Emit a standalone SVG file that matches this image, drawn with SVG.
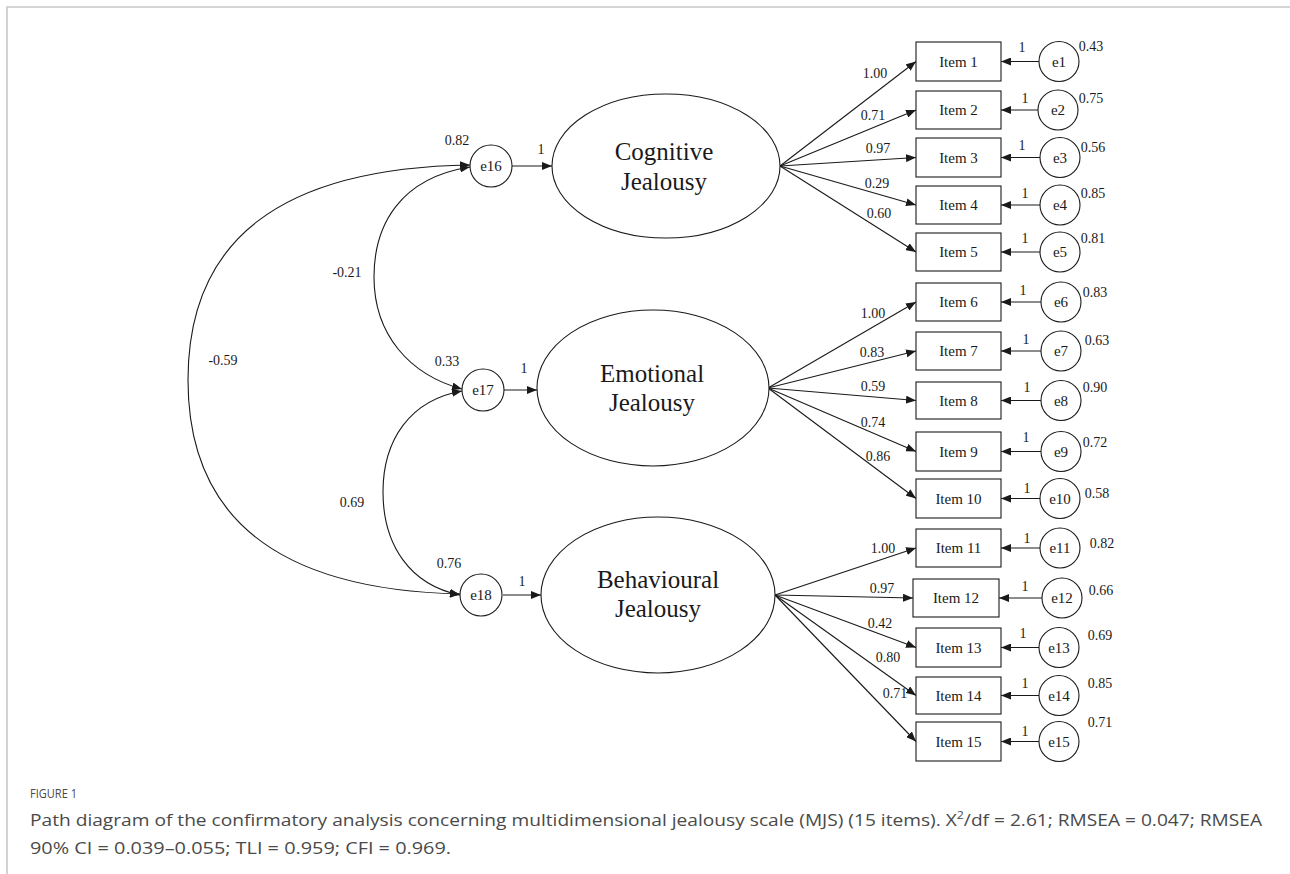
<svg xmlns="http://www.w3.org/2000/svg" width="1290" height="874" viewBox="0 0 1290 874">
<style>
.sh{fill:#fff;stroke:#1a1a1a;stroke-width:1.1}
.ln{fill:none;stroke:#1a1a1a;stroke-width:1.1}
.t{font-family:"Liberation Serif","Times New Roman",serif;fill:#1a1a1a}
.lat{font-size:25px;text-anchor:middle}
.it{font-size:15px;text-anchor:middle}
.er{font-size:15px;text-anchor:middle}
.n{font-size:14px;text-anchor:middle}
.cap{font-family:"Open Sans","Liberation Sans",sans-serif;fill:#4a4a4a}
</style>
<defs>
<marker id="ah" viewBox="0 0 10 8" refX="10" refY="4" markerWidth="10" markerHeight="8" orient="auto-start-reverse" markerUnits="userSpaceOnUse">
<path d="M0,0 L10,4 L0,8 z" fill="#1a1a1a"/>
</marker>
</defs>
<rect width="1290" height="874" fill="#fff"/>
<path d="M7,874 V7 H1290" fill="none" stroke="#c8c8c8" stroke-width="1.6"/>

<g id="connectors">
<path class="ln" d="M470,165 C280,168 188,240 188,380 C188,520 280,590 460,594" marker-start="url(#ah)" marker-end="url(#ah)"/>
<path class="ln" d="M470,167 C400,178 374,225 374,277 C374,335 410,375 462,389" marker-start="url(#ah)" marker-end="url(#ah)"/>
<path class="ln" d="M462,391 C410,400 383,440 383,492 C383,545 410,585 460,595" marker-start="url(#ah)" marker-end="url(#ah)"/>
<line class="ln" x1="512" y1="166" x2="552" y2="166" marker-end="url(#ah)"/>
<line class="ln" x1="504" y1="390" x2="537" y2="390" marker-end="url(#ah)"/>
<line class="ln" x1="503" y1="595" x2="541" y2="595" marker-end="url(#ah)"/>
<line class="ln" x1="780" y1="166" x2="916" y2="61.5" marker-end="url(#ah)"/>
<line class="ln" x1="780" y1="166" x2="916" y2="110" marker-end="url(#ah)"/>
<line class="ln" x1="780" y1="166" x2="916" y2="157.5" marker-end="url(#ah)"/>
<line class="ln" x1="780" y1="166" x2="916" y2="205" marker-end="url(#ah)"/>
<line class="ln" x1="780" y1="166" x2="916" y2="252" marker-end="url(#ah)"/>
<line class="ln" x1="768" y1="388" x2="916" y2="302" marker-end="url(#ah)"/>
<line class="ln" x1="768" y1="388" x2="916" y2="351" marker-end="url(#ah)"/>
<line class="ln" x1="768" y1="388" x2="916" y2="400.5" marker-end="url(#ah)"/>
<line class="ln" x1="768" y1="388" x2="916" y2="451.5" marker-end="url(#ah)"/>
<line class="ln" x1="768" y1="388" x2="916" y2="498.5" marker-end="url(#ah)"/>
<line class="ln" x1="775" y1="595" x2="916" y2="548" marker-end="url(#ah)"/>
<line class="ln" x1="775" y1="595" x2="913" y2="598" marker-end="url(#ah)"/>
<line class="ln" x1="775" y1="595" x2="916" y2="647.5" marker-end="url(#ah)"/>
<line class="ln" x1="775" y1="595" x2="916" y2="695.5" marker-end="url(#ah)"/>
<line class="ln" x1="775" y1="595" x2="916" y2="741.5" marker-end="url(#ah)"/>
<line class="ln" x1="1039" y1="61.5" x2="1001" y2="61.5" marker-end="url(#ah)"/>
<line class="ln" x1="1038" y1="110" x2="1001" y2="110" marker-end="url(#ah)"/>
<line class="ln" x1="1040" y1="157.5" x2="1001" y2="157.5" marker-end="url(#ah)"/>
<line class="ln" x1="1040" y1="205" x2="1001" y2="205" marker-end="url(#ah)"/>
<line class="ln" x1="1040" y1="252" x2="1001" y2="252" marker-end="url(#ah)"/>
<line class="ln" x1="1041" y1="302" x2="1001" y2="302" marker-end="url(#ah)"/>
<line class="ln" x1="1041" y1="351" x2="1001" y2="351" marker-end="url(#ah)"/>
<line class="ln" x1="1041" y1="400.5" x2="1001" y2="400.5" marker-end="url(#ah)"/>
<line class="ln" x1="1041" y1="451.5" x2="1001" y2="451.5" marker-end="url(#ah)"/>
<line class="ln" x1="1040" y1="498.5" x2="1001" y2="498.5" marker-end="url(#ah)"/>
<line class="ln" x1="1040" y1="548" x2="1001" y2="548" marker-end="url(#ah)"/>
<line class="ln" x1="1042" y1="598" x2="999" y2="598" marker-end="url(#ah)"/>
<line class="ln" x1="1039" y1="647.5" x2="1001" y2="647.5" marker-end="url(#ah)"/>
<line class="ln" x1="1039" y1="695.5" x2="1001" y2="695.5" marker-end="url(#ah)"/>
<line class="ln" x1="1039" y1="741.5" x2="1001" y2="741.5" marker-end="url(#ah)"/>
</g>

<g id="labels" class="t">
<text class="n" x="457" y="145">0.82</text>
<text class="n" x="347" y="277">-0.21</text>
<text class="n" x="223" y="365">-0.59</text>
<text class="n" x="447" y="366">0.33</text>
<text class="n" x="352" y="507">0.69</text>
<text class="n" x="449" y="568">0.76</text>
<text class="n" x="541" y="154">1</text>
<text class="n" x="524" y="373">1</text>
<text class="n" x="522" y="586">1</text>
<text class="n" x="875" y="78">1.00</text>
<text class="n" x="873" y="120">0.71</text>
<text class="n" x="878" y="153">0.97</text>
<text class="n" x="877" y="188">0.29</text>
<text class="n" x="879" y="218">0.60</text>
<text class="n" x="873" y="318">1.00</text>
<text class="n" x="872" y="357">0.83</text>
<text class="n" x="873" y="391">0.59</text>
<text class="n" x="873" y="427">0.74</text>
<text class="n" x="878" y="461">0.86</text>
<text class="n" x="883" y="553">1.00</text>
<text class="n" x="882" y="593">0.97</text>
<text class="n" x="880" y="628">0.42</text>
<text class="n" x="888" y="662">0.80</text>
<text class="n" x="895" y="698">0.71</text>
<text class="n" x="1022" y="52">1</text>
<text class="n" x="1025" y="103">1</text>
<text class="n" x="1022" y="150">1</text>
<text class="n" x="1025" y="198">1</text>
<text class="n" x="1025" y="243">1</text>
<text class="n" x="1023" y="295">1</text>
<text class="n" x="1026" y="344">1</text>
<text class="n" x="1027" y="392">1</text>
<text class="n" x="1026" y="442">1</text>
<text class="n" x="1027" y="493">1</text>
<text class="n" x="1027" y="543">1</text>
<text class="n" x="1025" y="591">1</text>
<text class="n" x="1023" y="638">1</text>
<text class="n" x="1025" y="688">1</text>
<text class="n" x="1025" y="736">1</text>
<text class="n" x="1091" y="51">0.43</text>
<text class="n" x="1091" y="103">0.75</text>
<text class="n" x="1093" y="152">0.56</text>
<text class="n" x="1093" y="198">0.85</text>
<text class="n" x="1093" y="243">0.81</text>
<text class="n" x="1095" y="297">0.83</text>
<text class="n" x="1097" y="345">0.63</text>
<text class="n" x="1095" y="392">0.90</text>
<text class="n" x="1095" y="447">0.72</text>
<text class="n" x="1097" y="498">0.58</text>
<text class="n" x="1102" y="548">0.82</text>
<text class="n" x="1101" y="595">0.66</text>
<text class="n" x="1100" y="640">0.69</text>
<text class="n" x="1100" y="688">0.85</text>
<text class="n" x="1100" y="727">0.71</text>
</g>

<g id="cognitive" class="t"><ellipse class="sh" cx="666" cy="166" rx="114" ry="72"/><text class="lat" x="664" y="160">Cognitive</text><text class="lat" x="664" y="190">Jealousy</text></g>
<g id="emotional" class="t"><ellipse class="sh" cx="653" cy="388" rx="116" ry="78"/><text class="lat" x="652" y="382">Emotional</text><text class="lat" x="652" y="411">Jealousy</text></g>
<g id="behavioural" class="t"><ellipse class="sh" cx="658" cy="595" rx="117" ry="78"/><text class="lat" x="658" y="588">Behavioural</text><text class="lat" x="658" y="617">Jealousy</text></g>

<g id="e16" class="t"><circle class="sh" cx="491" cy="166" r="21"/><text class="er" x="491" y="171">e16</text></g>
<g id="e17" class="t"><circle class="sh" cx="483" cy="390" r="21"/><text class="er" x="483" y="395">e17</text></g>
<g id="e18" class="t"><circle class="sh" cx="481" cy="595" r="21"/><text class="er" x="481" y="600">e18</text></g>

<g id="item1" class="t"><rect class="sh" x="916" y="42" width="85" height="39"/><text class="it" x="958.5" y="66.5">Item 1</text></g>
<g id="item2" class="t"><rect class="sh" x="916" y="91" width="85" height="38"/><text class="it" x="958.5" y="115">Item 2</text></g>
<g id="item3" class="t"><rect class="sh" x="916" y="138" width="85" height="39"/><text class="it" x="958.5" y="162.5">Item 3</text></g>
<g id="item4" class="t"><rect class="sh" x="916" y="186" width="85" height="38"/><text class="it" x="958.5" y="210">Item 4</text></g>
<g id="item5" class="t"><rect class="sh" x="916" y="233" width="85" height="38"/><text class="it" x="958.5" y="257">Item 5</text></g>
<g id="item6" class="t"><rect class="sh" x="916" y="283" width="85" height="38"/><text class="it" x="958.5" y="307">Item 6</text></g>
<g id="item7" class="t"><rect class="sh" x="916" y="332" width="85" height="38"/><text class="it" x="958.5" y="356">Item 7</text></g>
<g id="item8" class="t"><rect class="sh" x="916" y="382" width="85" height="37"/><text class="it" x="958.5" y="405.5">Item 8</text></g>
<g id="item9" class="t"><rect class="sh" x="916" y="432" width="85" height="39"/><text class="it" x="958.5" y="456.5">Item 9</text></g>
<g id="item10" class="t"><rect class="sh" x="916" y="479" width="85" height="39"/><text class="it" x="958.5" y="503.5">Item 10</text></g>
<g id="item11" class="t"><rect class="sh" x="916" y="529" width="85" height="38"/><text class="it" x="958.5" y="553">Item 11</text></g>
<g id="item12" class="t"><rect class="sh" x="913" y="579" width="86" height="38"/><text class="it" x="956" y="603">Item 12</text></g>
<g id="item13" class="t"><rect class="sh" x="916" y="628" width="85" height="39"/><text class="it" x="958.5" y="652.5">Item 13</text></g>
<g id="item14" class="t"><rect class="sh" x="916" y="677" width="85" height="37"/><text class="it" x="958.5" y="700.5">Item 14</text></g>
<g id="item15" class="t"><rect class="sh" x="916" y="722" width="85" height="39"/><text class="it" x="958.5" y="746.5">Item 15</text></g>

<g id="e1" class="t"><circle class="sh" cx="1059" cy="61.5" r="20"/><text class="er" x="1059" y="66.5">e1</text></g>
<g id="e2" class="t"><circle class="sh" cx="1058" cy="110" r="20"/><text class="er" x="1058" y="115">e2</text></g>
<g id="e3" class="t"><circle class="sh" cx="1060" cy="157.5" r="20"/><text class="er" x="1060" y="162.5">e3</text></g>
<g id="e4" class="t"><circle class="sh" cx="1060" cy="205" r="20"/><text class="er" x="1060" y="210">e4</text></g>
<g id="e5" class="t"><circle class="sh" cx="1060" cy="252" r="20"/><text class="er" x="1060" y="257">e5</text></g>
<g id="e6" class="t"><circle class="sh" cx="1061" cy="302" r="20"/><text class="er" x="1061" y="307">e6</text></g>
<g id="e7" class="t"><circle class="sh" cx="1061" cy="351" r="20"/><text class="er" x="1061" y="356">e7</text></g>
<g id="e8" class="t"><circle class="sh" cx="1061" cy="400.5" r="20"/><text class="er" x="1061" y="405.5">e8</text></g>
<g id="e9" class="t"><circle class="sh" cx="1061" cy="451.5" r="20"/><text class="er" x="1061" y="456.5">e9</text></g>
<g id="e10" class="t"><circle class="sh" cx="1060" cy="498.5" r="20"/><text class="er" x="1060" y="503.5">e10</text></g>
<g id="e11" class="t"><circle class="sh" cx="1060" cy="548" r="20"/><text class="er" x="1060" y="553">e11</text></g>
<g id="e12" class="t"><circle class="sh" cx="1062" cy="598" r="20"/><text class="er" x="1062" y="603">e12</text></g>
<g id="e13" class="t"><circle class="sh" cx="1059" cy="647.5" r="20"/><text class="er" x="1059" y="652.5">e13</text></g>
<g id="e14" class="t"><circle class="sh" cx="1059" cy="695.5" r="20"/><text class="er" x="1059" y="700.5">e14</text></g>
<g id="e15" class="t"><circle class="sh" cx="1059" cy="741.5" r="20"/><text class="er" x="1059" y="746.5">e15</text></g>

<g id="caption">
<text class="cap" x="30" y="798" font-size="12.5" fill="#555" textLength="47" lengthAdjust="spacingAndGlyphs">FIGURE 1</text>
<text class="cap" x="30" y="826" font-size="17" textLength="1232" lengthAdjust="spacingAndGlyphs">Path diagram of the confirmatory analysis concerning multidimensional jealousy scale (MJS) (15 items). X<tspan font-size="11" dy="-7">2</tspan><tspan dy="7">/df = 2.61; RMSEA = 0.047; RMSEA</tspan></text>
<text class="cap" x="30" y="854" font-size="17" textLength="421" lengthAdjust="spacingAndGlyphs">90% CI = 0.039–0.055; TLI = 0.959; CFI = 0.969.</text>
</g>
</svg>
